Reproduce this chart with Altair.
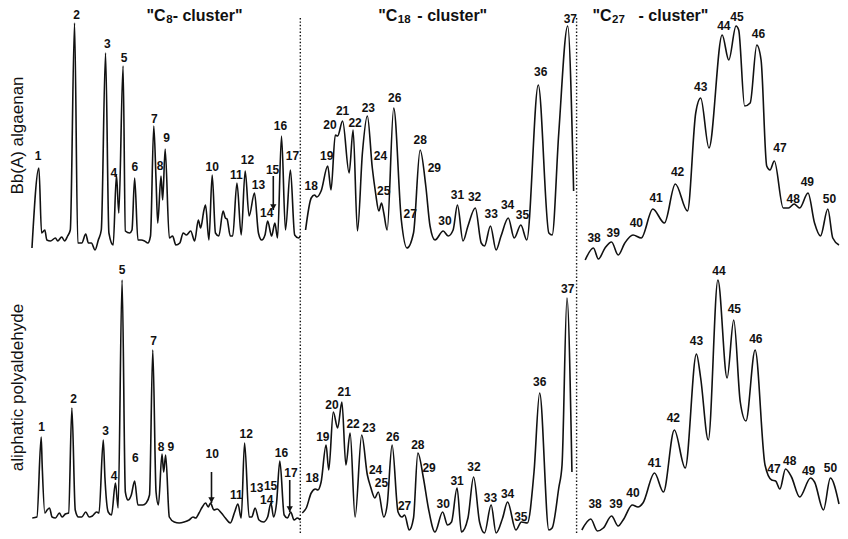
import altair as alt
import pandas as pd

# ---------------- data ----------------
# traces: (retention position, relative abundance) for each cluster window
ALG_C8 = [(33,13),(40,93),(42.7,28),(46,31),(48,21),(51.7,20),(56.7,23),(59,20),(63,24),(66,20),
          (69,25),(71.7,31),(76,238),(79.3,18),(83.3,18),(87.3,27),(90,18),(93,18),(96.7,11),(100,21),
          (103,31),(107.3,208),(110.7,28),(115,16),(118.3,86),(120.7,48),(125,195),(127.3,30),(131.7,28),
          (134,31),(136.7,83),(140,21),(143.3,21),(146.7,20),(150,18),(152.7,25),(156,135),(158.3,81),
          (160,38),(163.3,85),(165,61),(167.5,112),(171.7,23),(175,25),(178.3,16),(182.3,18),(185.7,28),
          (189,26),(193.3,30),(197.3,20),(201,41),(203.3,33),(206.7,51),(208.3,56),(211.7,21),(215,86),
          (218.3,28),(221.7,25),(226,50),(228.3,43),(230,42),(233.3,25),(235.7,25),(240,78),(244.3,26),
          (248.3,90),(252.3,45),(257.7,68),(261.7,28),(265,21),(268.3,26),(271,40),(275,25),(278.3,38),
          (281,23),(285,125),(289,31),(294,91),(298.3,26),(302.3,23),(304,25)]
ALG_C18 = [(309.3,31),(315,63),(318.3,66),(320.7,64),(325,70),(331.7,95),(335,71),(339.3,126),
           (341.7,125),(346.7,140),(353.3,88),(357.3,131),(361.7,30),(366.7,108),(371.7,145),(376.7,93),
           (380,68),(383.3,50),(386,58),(388.3,48),(391.7,31),(398.3,153),(406,41),(411.7,13),(418.3,28),
           (425,111),(430.7,75),(435,35),(440,21),(448.3,30),(453.3,25),(458.3,31),(462.7,56),(468.3,20),
           (473.3,35),(480.7,53),(486.7,18),(490,15),(496,35),(501.7,11),(506.7,25),(514,43),(520,23),
           (526.7,36),(532.7,21),(544.3,176),(555,28),(558.3,26),(565,128),(574,235),(580,70)]
ALG_C27 = [(591.7,1),(600,13),(605,2),(611.7,13),(618.3,19),(625,6),(631.7,18),(640,26),(648.3,23),
           (660,52),(671.7,38),(682.7,77),(695,50),(703.3,148),(708.3,163),(716.7,113),(730,226),
           (736.7,201),(744,235),(746.7,231),(752.7,155),(758.3,158),(765,216),(769.3,201),(775,95),
           (778.3,91),(782.7,100),(791.7,53),(797,53),(802.7,57),(808.3,53),(816.7,68),(823.3,38),
           (829.3,25),(836.7,52),(841.7,23),(848,16)]

ALD_C8 = [(33.3,15),(38,16),(42.3,96),(43.3,68),(46,20),(48.3,23),(50.7,25),(53.3,16),(56.7,15),
          (60.7,20),(63.3,16),(66.7,19),(70,20),(73.3,125),(76.7,23),(80,16),(83.3,16),(87.3,21),
          (90.7,16),(94,17),(98.3,21),(100.7,20),(105,93),(106.7,55),(110,21),(113.3,18),(117.3,50),
          (120,25),(124,253),(127.3,41),(130,33),(133.3,38),(136.7,52),(140,28),(145,28),(148.3,30),
          (151.7,38),(155,183),(158.3,41),(160.7,28),(164.3,79),(166,61),(168,78),(171.7,16),(176.7,11),
          (181.7,10),(186.7,11),(191.7,13),(195.7,16),(198.3,15),(201.7,20),(205,26),(208.3,30),(211,26),
          (213.3,30),(216.7,23),(220,24),(224.3,20),(228.3,15),(233.3,10),(237.7,21),(241,29),(244.3,15),
          (247.7,90),(252.3,16),(255,16),(258.3,25),(262.3,13),(266.7,11),(271,16),(274.3,30),(277,16),
          (280,30),(283.3,72),(287.7,18),(291,15),(294.3,21),(297.7,13),(301,15),(304,13)]
ALD_C18 = [(306,20),(310,25),(315,40),(319.3,44),(321.7,43),(325,51),(330,88),(332.7,63),(337.3,121),
           (341.7,105),(346,131),(350,68),(354.3,100),(359.3,16),(366,98),(371.7,58),(375,46),(379.3,35),
           (382.7,41),(388.3,16),(391.7,28),(396.7,88),(402.7,21),(406.7,16),(409.3,18),(414,3),(418.3,15),
           (422.7,80),(428.3,55),(433.3,25),(440,1),(447.7,21),(452.7,8),(456.7,11),(462.3,45),(466.7,1),
           (473.3,15),(479,56),(485,11),(490,0),(496.7,28),(501.7,0),(508.3,15),(513.3,31),(521.7,3),
           (527.3,11),(533.3,10),(540,61),(545.7,140),(555,3),(558.3,5),(565,45),(568.3,68),(573.3,235),
           (578.3,61)]
ALD_C27 = [(588.3,3),(597.3,14),(604,2),(610,5),(618.3,17),(625,7),(630,13),(639.3,28),(645,26),
           (650,30),(661.7,60),(670.7,41),(681.7,103),(692.7,65),(704,179),(708.3,155),(716,93),
           (725.7,253),(735,155),(741.7,213),(748.3,131),(754,112),(763.3,183),(773.3,68),(780,53),
           (784,52),(788.3,44),(794,64),(800,56),(808.3,36),(819.3,55),(823.3,51),(832.3,23),(839.3,55),
           (848,29)]

PEAK_IDS = [str(i) for i in range(1, 51)]
ALG_LABEL_RT = [39.3,78,109,115.7,126,137,156.7,162.3,169,215,239.3,250.7,261.7,270,276,284,296,315,
                330.7,334,346.7,359.3,372.7,385,388.3,399.3,415,425,439.3,450,462.7,480,496.7,513.3,
                528.3,546.7,576.7,600.7,620,643.3,663.3,685,708.3,731.7,745,766.7,788.3,801.7,816,838.3]
ALG_LABEL_AB = [105,246,217,88,203,94,142,95,123,94,86,101,76,48,91,135,105,75,105,136,150,138,153,
                105,70,163,47,121,93,40,66,64,47,56,46,189,242,23,28,38,63,89,174,235,244,227,113,62,79,62]
ALD_LABEL_RT = [42.7,75,107.3,116,124,137.3,155.7,163.3,173.3,215,239.3,249.3,260,270,274,285,294.5,
                316,326.7,336,348.3,357.3,373.3,380,386,397.3,409.3,422.7,434,448.3,462.3,479.3,496,
                513.3,526.7,545.7,574,601.7,622.7,640,661.7,680.7,704,726.7,742.3,764,782.3,798.3,
                817.3,839.3]
ALD_LABEL_AB = [106,134,102,57,263,75,192,86,86,79,38,99,45,33,47,80,60,55,96,128,141,109,105,63,50,
                96,27,88,65,29,52,66,35,39,16,151,244,29,29,40,70,115,192,262,224,194,64,72,62,65]

# arrows pointing at minor peaks: (retention, start abundance, end abundance)
ALG_ARROWS = [(276.7, 85, 51)]
ALD_ARROWS = [(214.3, 61, 30), (293.3, 53, 21)]

# cluster headings: carbon number shown as subscript after "C
CLUSTER_CARBON = ["8", "18", "27"]
CLUSTER_RT = [168, 402, 618.3]      # position where the "C ends
CLUSTER_AB = 245
SUFFIX_DX = [7, 20, 27]             # pixel gap from the "C to the '- cluster' text

DIVIDER_RT = [304, 583]

FONT = "Liberation Sans"
INK = "#111111"
RT_DOMAIN = [30, 848]
WIDTH = 810


def trace_frame(segments):
    rows = []
    for name, pts in segments:
        for rt, ab in pts:
            rows.append({"rt": rt, "abund": ab, "seg": name})
    return pd.DataFrame(rows)


def build_row(segments, lab_rt, lab_ab, arrows, div_top, ymax, height, ytitle, title_y, headings=False):
    xs = alt.Scale(domain=RT_DOMAIN, nice=False, zero=False)
    ys = alt.Scale(domain=[0, ymax], nice=False, zero=True)
    yaxis = alt.Axis(title=ytitle, labels=False, ticks=False, domain=False, grid=False,
                     titleFont=FONT, titleFontSize=17, titleFontWeight="normal", titleColor=INK,
                     titleX=-12, titleY=title_y, titleBaseline="middle")

    def X(f):
        return alt.X(f, type="quantitative", scale=xs, axis=None)

    def Y(f):
        return alt.Y(f, type="quantitative", scale=ys, axis=yaxis)

    lines = alt.Chart(trace_frame(segments)).mark_line(
        color=INK, strokeWidth=1.6, strokeJoin="round", interpolate="monotone"
    ).encode(x=X("rt"), y=Y("abund"), detail="seg:N", order="rt:Q")

    lab_df = pd.DataFrame({"rt": lab_rt, "abund": lab_ab, "peak": PEAK_IDS})
    labels = alt.Chart(lab_df).mark_text(
        font=FONT, fontSize=12, fontWeight="bold", color=INK, align="center", baseline="middle"
    ).encode(x=X("rt"), y=Y("abund"), text="peak:N")

    div_df = pd.DataFrame({"rt": DIVIDER_RT, "top": [div_top] * len(DIVIDER_RT), "bottom": [0] * len(DIVIDER_RT)})
    dividers = alt.Chart(div_df).mark_rule(
        color=INK, strokeWidth=1.4, strokeDash=[1.4, 2.0]
    ).encode(x=X("rt"), y=Y("top"), y2="bottom")

    arr_df = pd.DataFrame({"rt": [a[0] for a in arrows], "start": [a[1] for a in arrows],
                           "end": [a[2] for a in arrows]})
    shafts = alt.Chart(arr_df).mark_rule(color=INK, strokeWidth=1.6).encode(
        x=X("rt"), y=Y("start"), y2="end")
    heads = alt.Chart(arr_df).mark_point(
        shape="triangle-down", filled=True, color=INK, size=40, opacity=1, yOffset=-3
    ).encode(x=X("rt"), y=Y("end"))

    layers = [dividers, lines, shafts, heads, labels]
    if headings:
        for rt, carbon, sdx in zip(CLUSTER_RT, CLUSTER_CARBON, SUFFIX_DX):
            h_df = pd.DataFrame({"rt": [rt], "abund": [CLUSTER_AB], "pre": ['"C'],
                                 "sub": [carbon], "post": ['- cluster"']})
            base = alt.Chart(h_df)
            layers.append(base.mark_text(
                font=FONT, fontSize=16, fontWeight="bold", color=INK, align="right", baseline="middle"
            ).encode(x=X("rt"), y=Y("abund"), text="pre:N"))
            layers.append(base.mark_text(
                font=FONT, fontSize=11.5, fontWeight="bold", color=INK, align="left", baseline="middle",
                dx=0.5, dy=4
            ).encode(x=X("rt"), y=Y("abund"), text="sub:N"))
            layers.append(base.mark_text(
                font=FONT, fontSize=16, fontWeight="bold", color=INK, align="left", baseline="middle",
                dx=sdx
            ).encode(x=X("rt"), y=Y("abund"), text="post:N"))
    return alt.layer(*layers).properties(width=WIDTH, height=height)


top = build_row([("c8", ALG_C8), ("c18", ALG_C18), ("c27", ALG_C27)],
                ALG_LABEL_RT, ALG_LABEL_AB, ALG_ARROWS, 243, 253, 253,
                "Bb(A) algaenan", 127, headings=True)
bottom = build_row([("c8", ALD_C8), ("c18", ALD_C18), ("c27", ALD_C27)],
                   ALD_LABEL_RT, ALD_LABEL_AB, ALD_ARROWS, 270, 270, 270,
                   "aliphatic polyaldehyde", 124)

chart = alt.vconcat(top, bottom, spacing=0, padding=0, background="white").configure_view(stroke=None)

chart.save("out.html", embed_options={"renderer": "svg", "actions": False})
